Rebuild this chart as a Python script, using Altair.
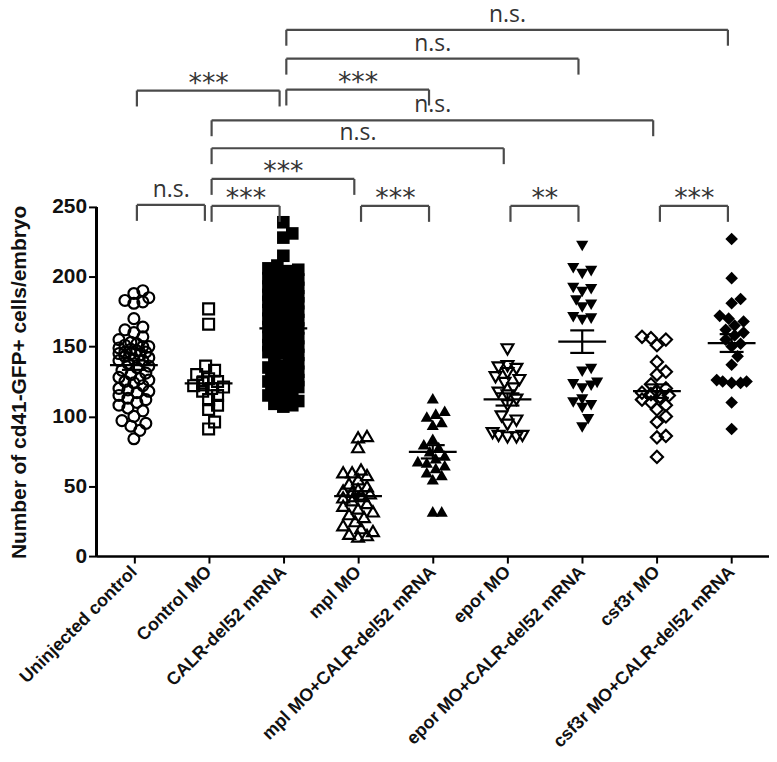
import json
import altair as alt
import pandas as pd

# ---------------- data ----------------
categories = [
    "Uninjected control", "Control MO", "CALR-del52 mRNA", "mpl MO",
    "mpl MO+CALR-del52 mRNA", "epor MO", "epor MO+CALR-del52 mRNA",
    "csf3r MO", "csf3r MO+CALR-del52 mRNA",
]

uninjected = [190, 188, 185, 183, 182, 181, 170, 164, 162, 160, 157, 155, 153, 152, 151,
              150, 150, 149, 148, 147, 146, 146, 145, 145, 144, 143, 142, 141, 140, 140,
              138, 136, 135, 133, 131, 130, 128, 127, 126, 125, 124, 122, 120, 119, 118,
              117, 115, 113, 112, 110, 108, 106, 104, 100, 97, 95, 93, 90, 84]
control_mo = [177, 166, 136, 133, 130, 127, 125, 124, 122, 121, 120, 118, 115, 112, 108,
              105, 96, 91]
calr = [239, 231, 228, 215, 208, 206, 205, 204, 202, 201, 200, 199, 198, 197, 196, 195,
        194, 193, 192, 191, 190, 189, 188, 187, 186, 185, 185, 184, 183, 182, 181, 180,
        179, 178, 177, 176, 175, 174, 173, 172, 171, 170, 169, 168, 167, 166, 165, 164,
        163, 162, 161, 160, 158, 157, 156, 155, 154, 153, 152, 151, 150, 149, 148, 147,
        146, 145, 144, 142, 140, 138, 136, 135, 134, 133, 132, 131, 130, 128, 127, 126,
        125, 124, 122, 121, 120, 119, 118, 117, 115, 113, 111, 109, 108, 107]
mpl_mo = [86, 85, 78, 62, 60, 60, 58, 55, 52, 50, 48, 47, 46, 45, 44, 42, 40, 38, 36, 34,
          32, 30, 28, 25, 22, 20, 18, 16, 15, 14]
mpl_calr = [113, 104, 102, 100, 96, 94, 84, 80, 78, 75, 72, 70, 68, 67, 65, 63, 60, 58,
            55, 32, 32]
epor_mo = [148, 134, 136, 135, 131, 128, 126, 124, 120, 117, 115, 112, 108, 100, 97, 94,
           88, 86, 85, 85, 86]
epor_calr = [222, 206, 204, 202, 192, 191, 189, 183, 180, 178, 171, 170, 169, 134, 132,
             124, 123, 122, 120, 112, 110, 108, 106, 98, 92]
csf3r_mo = [157, 156, 155, 151, 139, 132, 130, 123, 120, 118, 117, 116, 115, 114, 112,
            110, 108, 105, 100, 96, 86, 85, 71]
csf3r_calr = [227, 199, 184, 181, 172, 170, 168, 165, 162, 160, 158, 155, 152, 150, 143,
              137, 124, 124, 125, 125, 126, 110, 91]

series = [uninjected, control_mo, calr, mpl_mo, mpl_calr, epor_mo, epor_calr,
          csf3r_mo, csf3r_calr]

# significance brackets: left group, right group, bracket level, label
br_left = [2, 2, 0, 2, 1, 1, 1, 0, 1, 3, 5, 7]
br_right = [8, 6, 2, 4, 7, 5, 3, 1, 2, 4, 6, 8]
br_level = [376.8, 356.1, 333.3, 334.0, 312.0, 292.0, 270.0, 251.4, 250.7, 250.7, 250.7, 250.7]
br_label = ["n.s.", "n.s.", "***", "***", "n.s.", "n.s.", "***", "n.s.", "***", "***", "**", "***"]

# ---------------- layout helpers ----------------
W, H = 676, 549
Y_MAX = 391.0
PX_PER_CAT = W / 9.0
PX_PER_UNIT = H / Y_MAX


def swarm(vals, diam=9.0, maxw=17.0, step=3.0):
    """deterministic beeswarm offsets (in category units)"""
    order = sorted(range(len(vals)), key=lambda k: vals[k])
    cands = [0.0]
    s = step
    while s <= maxw + 1e-9:
        cands += [s, -s]
        s += step
    placed = []
    offs = [0.0] * len(vals)
    for k in order:
        y = vals[k] * PX_PER_UNIT
        best, best_d = 0.0, -1.0
        for c in cands:
            dmin = 1e9
            for (px, py) in placed:
                d = ((px - c) ** 2 + (py - y) ** 2) ** 0.5
                dmin = min(dmin, d)
            if dmin >= diam:
                best = c
                best_d = dmin
                break
            if dmin > best_d:
                best_d = dmin
                best = c
        placed.append((best, y))
        offs[k] = best / PX_PER_CAT
    return offs


rows = []
for gi, vals in enumerate(series):
    offs = swarm(vals)
    for v, o in zip(vals, offs):
        rows.append({"gi": gi, "value": v, "pos": gi + o})
pts = pd.DataFrame(rows)

brk = pd.DataFrame({"l": br_left, "r": br_right, "level": br_level, "label": br_label})

# ---------------- scales / axes ----------------
xscale = alt.Scale(domain=[-0.5, 8.5], nice=False, zero=False)
yscale = alt.Scale(domain=[0, Y_MAX], nice=False, zero=False)

label_expr = json.dumps(categories) + "[datum.value]"

xaxis = alt.Axis(
    values=list(range(9)), labelExpr=label_expr, title=None, grid=False,
    labelAngle=315, labelAlign="right", labelBaseline="middle", labelPadding=6,
    labelFont="Liberation Sans", labelFontWeight="bold", labelFontSize=18,
    labelColor="#111", labelOverlap=False, labelFlush=False, labelLimit=0,
    tickSize=7, tickWidth=2, tickColor="black", domainColor="black", domainWidth=2.5,
)
yaxis = alt.Axis(
    values=[0, 50, 100, 150, 200, 250], title="Number of cd41-GFP+ cells/embryo",
    grid=False, domain=False, tickSize=8, tickWidth=2, tickColor="black",
    labelFont="Liberation Sans", labelFontWeight="bold", labelFontSize=21,
    labelColor="#111", labelPadding=2, labelFlush=False,
    titleFont="Liberation Sans", titleFontWeight="bold", titleFontSize=21,
    titleColor="#111", titleAngle=270, titleX=-88, titleY=374,
    titleBaseline="top", titleAlign="center",
)

X = alt.X("pos:Q", scale=xscale, axis=xaxis)
Y = alt.Y("value:Q", scale=yscale, axis=yaxis)

shapes = ["circle", "square", "square", "triangle-up", "triangle-up",
          "triangle-down", "triangle-down", "diamond", "diamond"]
filled = [False, False, True, False, True, False, True, False, True]
sizes = [120, 120, 160, 140, 150, 140, 150, 150, 160]

layers = []
for gi in range(9):
    layers.append(
        alt.Chart(pts).transform_filter(alt.datum.gi == gi).mark_point(
            shape=shapes[gi], filled=filled[gi], size=sizes[gi],
            strokeWidth=2.2, color="black", opacity=1,
        ).encode(x=X, y=Y)
    )

# y axis line (0 .. 250 only)
axis_line = alt.Chart(pts).mark_rule(color="black", strokeWidth=2.5).encode(
    x=alt.value(0), y=alt.datum(0), y2=alt.datum(250)
)

# mean +/- SEM
stats = alt.Chart(pts).transform_aggregate(
    m="mean(value)", se="stderr(value)", groupby=["gi"]
).transform_calculate(
    ml="datum.gi - 0.32", mr="datum.gi + 0.32",
    cl="datum.gi - 0.16", cr="datum.gi + 0.16",
    hi="datum.m + datum.se", lo="datum.m - datum.se",
)
mean_line = stats.mark_rule(color="black", strokeWidth=2.2).encode(
    x=alt.X("ml:Q", scale=xscale), x2="mr:Q", y=alt.Y("m:Q", scale=yscale))
cap_hi = stats.mark_rule(color="black", strokeWidth=2.2).encode(
    x=alt.X("cl:Q", scale=xscale), x2="cr:Q", y=alt.Y("hi:Q", scale=yscale))
cap_lo = stats.mark_rule(color="black", strokeWidth=2.2).encode(
    x=alt.X("cl:Q", scale=xscale), x2="cr:Q", y=alt.Y("lo:Q", scale=yscale))
vbar = stats.mark_rule(color="black", strokeWidth=2.2).encode(
    x=alt.X("gi:Q", scale=xscale), y=alt.Y("lo:Q", scale=yscale), y2="hi:Q")

# brackets
bb = alt.Chart(brk).transform_calculate(
    xl="datum.l + 0.04", xr="datum.r - 0.05", drop="datum.level - 11.4",
    xc="(datum.l + datum.r) / 2",
)
BR = dict(color="#4a4a4a", strokeWidth=2.2)
br_h = bb.mark_rule(**BR).encode(
    x=alt.X("xl:Q", scale=xscale), x2="xr:Q", y=alt.Y("level:Q", scale=yscale))
br_l = bb.mark_rule(**BR).encode(
    x=alt.X("xl:Q", scale=xscale), y=alt.Y("drop:Q", scale=yscale), y2="level:Q")
br_r = bb.mark_rule(**BR).encode(
    x=alt.X("xr:Q", scale=xscale), y=alt.Y("drop:Q", scale=yscale), y2="level:Q")
txt_ns = bb.transform_filter(alt.datum.label == "n.s.").mark_text(
    font="Open Sans", fontSize=23, color="#333", baseline="alphabetic", dy=-8
).encode(x=alt.X("xc:Q", scale=xscale), y=alt.Y("level:Q", scale=yscale), text="label:N")
txt_star = bb.transform_filter(alt.datum.label != "n.s.").mark_text(
    font="DejaVu Sans", fontSize=27, color="#333", baseline="alphabetic", dy=1
).encode(x=alt.X("xc:Q", scale=xscale), y=alt.Y("level:Q", scale=yscale), text="label:N")

chart = alt.layer(
    *layers, mean_line, cap_hi, cap_lo, vbar, axis_line,
    br_h, br_l, br_r, txt_ns, txt_star,
).properties(
    width=W, height=H,
    autosize=alt.AutoSizeParams(type="none"),
    padding={"left": 89, "top": 0, "right": 0, "bottom": 197},
    background="white",
).configure_view(stroke=None)

chart.save("out.html", embed_options={"renderer": "svg", "actions": False})
